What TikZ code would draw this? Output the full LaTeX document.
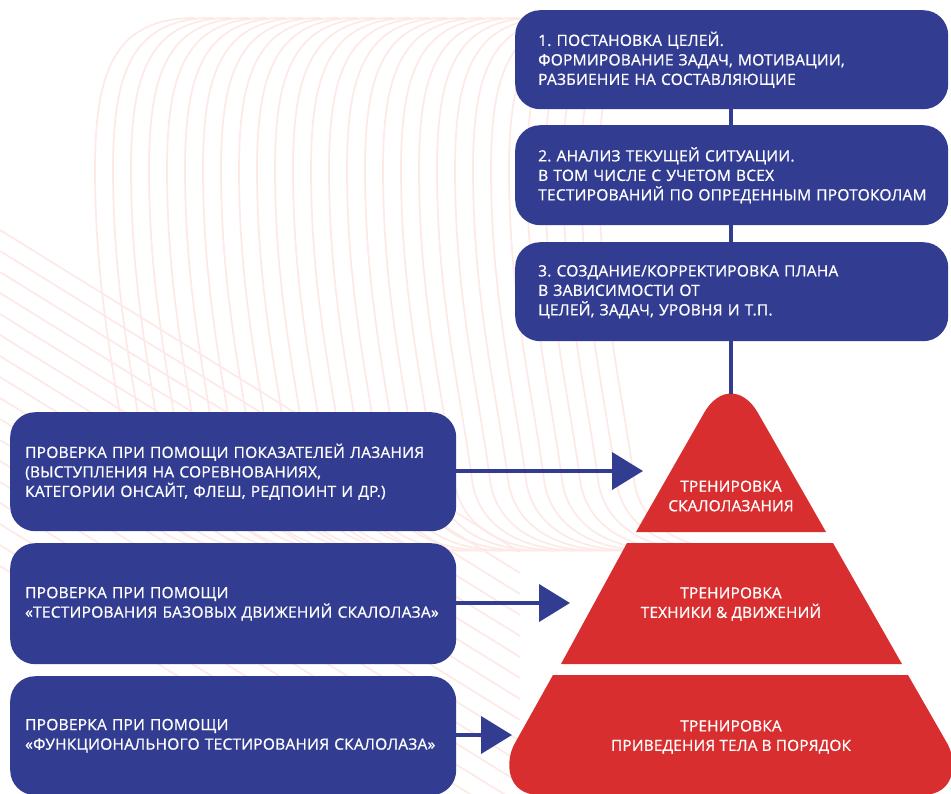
\documentclass[tikz,border=0pt]{standalone}
\usepackage{fontspec}
\setmainfont{Open Sans}[BoldFont={Open Sans},BoldFeatures={FakeBold=0.9},LetterSpace=1.5]
\frenchspacing
\usetikzlibrary{arrows.meta}
\definecolor{navy}{HTML}{323D91}
\definecolor{redp}{HTML}{D92E2F}
\definecolor{bgpink}{HTML}{FDEAE7}
\begin{document}
\begin{tikzpicture}[x=1pt,y=-1pt,
  bgline/.style={draw=bgpink,line width=1.7pt},
  bluebox/.style={fill=navy,rounded corners=25pt,text=white,align=left,
    inner xsep=23pt,inner ysep=0pt,font=\fontsize{15.5}{19.5}\selectfont\bfseries,anchor=north west},
  tiertext/.style={text=white,align=center,font=\fontsize{15.3}{19.5}\selectfont\bfseries},
  link/.style={draw=navy,line width=4pt},
  arr/.style={draw=navy,line width=4pt,-{Triangle[length=31pt,width=37pt]}}]
\useasboundingbox (0,0) rectangle (951,793);
\fill[white] (0,0) rectangle (951,793);
\begin{scope}
\clip (0,0) rectangle (951,793);
% background decorative lines
\foreach \i in {0,...,28}{
  \pgfmathsetmacro{\xo}{95+18*\i}
  \draw[bgline] (\xo+100,18) .. controls (\xo+20,18) and (\xo,70) .. (\xo,170)
     .. controls (\xo,300) and (\xo+25,400) .. (\xo+35,480)
     .. controls (\xo+42,530) and (\xo+90,555) .. (\xo+160,550);
}
\foreach \k in {0,...,16}{
  \pgfmathsetmacro{\yo}{230+21*\k}
  \draw[bgline] (0,\yo) -- (520,\yo+322);
}
% pyramid tiers
\fill[redp] (636,532) -- (704,413) .. controls (719,387) and (743,387) .. (758,413) -- (826,532) -- cycle;
\fill[redp] (627,543) -- (833,543) -- (902,664) -- (561,664) -- cycle;
\fill[redp] (553,675) -- (908,675) -- (947,743) .. controls (957,760) and (957,795) .. (922,795)
   -- (540,795) .. controls (505,795) and (505,760) .. (515,743) -- cycle;
\end{scope}
\coordinate (apex) at (731,394);
% top boxes
\node[bluebox,minimum width=433pt,minimum height=99pt,text width=387pt] (b1) at (515,10)
  {1. ПОСТАНОВКА ЦЕЛЕЙ.\\ФОРМИРОВАНИЕ ЗАДАЧ, МОТИВАЦИИ,\\РАЗБИЕНИЕ НА СОСТАВЛЯЮЩИЕ};
\draw[link] (b1.south -| apex) -- (apex);
\node[bluebox,minimum width=433pt,minimum height=100pt,text width=387pt] (b2) at (515,125)
  {2. АНАЛИЗ ТЕКУЩЕЙ СИТУАЦИИ.\\В ТОМ ЧИСЛЕ С УЧЕТОМ ВСЕХ\\\mbox{ТЕСТИРОВАНИЙ ПО ОПРЕДЕННЫМ ПРОТОКОЛАМ}};
\node[bluebox,minimum width=433pt,minimum height=99pt,text width=387pt] (b3) at (515,242)
  {3. СОЗДАНИЕ/КОРРЕКТИРОВКА ПЛАНА\\В ЗАВИСИМОСТИ ОТ\\ЦЕЛЕЙ, ЗАДАЧ, УРОВНЯ И Т.П.};
% left boxes
\node[bluebox,inner xsep=15pt,minimum width=446pt,minimum height=119pt,text width=416pt] (l1) at (10,412)
  {ПРОВЕРКА ПРИ ПОМОЩИ ПОКАЗАТЕЛЕЙ ЛАЗАНИЯ\\(ВЫСТУПЛЕНИЯ НА СОРЕВНОВАНИЯХ,\\КАТЕГОРИИ ОНСАЙТ, ФЛЕШ, РЕДПОИНТ И ДР.)};
\node[bluebox,inner xsep=15pt,minimum width=446pt,minimum height=121pt,text width=416pt] (l2) at (10,543)
  {ПРОВЕРКА ПРИ ПОМОЩИ\\«ТЕСТИРОВАНИЯ БАЗОВЫХ ДВИЖЕНИЙ СКАЛОЛАЗА»};
\node[bluebox,inner xsep=15pt,minimum width=446pt,minimum height=119pt,text width=416pt] (l3) at (10,676)
  {ПРОВЕРКА ПРИ ПОМОЩИ\\«ФУНКЦИОНАЛЬНОГО ТЕСТИРОВАНИЯ СКАЛОЛАЗА»};
% arrow tips
\coordinate (tipA) at (643,471);
\coordinate (tipB) at (570,603);
\coordinate (tipC) at (512,735);
\draw[arr] (l1.east |- tipA) -- (tipA);
\draw[arr] (l2.east |- tipB) -- (tipB);
\draw[arr] (l3.east |- tipC) -- (tipC);
% tier texts
\node[tiertext] (t1) at (731,496) {ТРЕНИРОВКА\\СКАЛОЛАЗАНИЯ};
\node[tiertext] (t2) at (731,604) {ТРЕНИРОВКА\\ТЕХНИКИ \& ДВИЖЕНИЙ};
\node[tiertext] (t3) at (731,737) {ТРЕНИРОВКА\\ПРИВЕДЕНИЯ ТЕЛА В ПОРЯДОК};
\end{tikzpicture}
\end{document}
